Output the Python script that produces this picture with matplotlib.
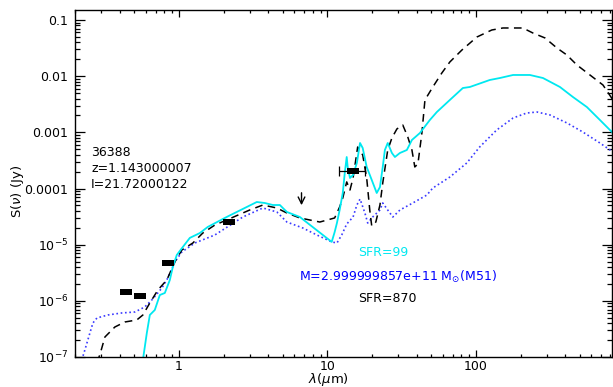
import matplotlib
matplotlib.use("Agg")
import matplotlib.pyplot as plt
import numpy as np
from matplotlib.ticker import FixedLocator, FixedFormatter, LogLocator, NullFormatter

# ---------------- data ----------------
# SFR=870 model (black dashed)
wl_black = [0.28, 0.294, 0.318, 0.371, 0.433, 0.521, 0.573, 0.638, 0.723, 0.830, 0.940,
            1.048, 1.243, 1.45, 1.75, 2.10, 3.00, 3.68, 4.57, 5.34, 6.53, 8.90, 11.2,
            12.1, 12.7, 13.5, 14.2, 14.9, 16.0, 17.3, 18.4, 19.3, 19.9, 21.2, 22.6, 23.6,
            25.5, 27.2, 29.4, 32.2, 34.8, 37.1, 38.8, 40.7, 43.3, 45.4, 51.3, 59.0, 66.8,
            80.5, 101.6, 128, 152, 207, 242, 292, 351, 410, 479, 586, 717, 837]
fl_black = [8.0e-8, 1.09e-7, 2.27e-7, 3.42e-7, 4.20e-7, 4.56e-7, 5.60e-7, 9.16e-7, 1.56e-6,
            2.35e-6, 4.92e-6, 8.04e-6, 1.07e-5, 1.61e-5, 2.24e-5, 2.75e-5, 4.14e-5, 5.08e-5,
            4.50e-5, 3.66e-5, 2.99e-5, 2.53e-5, 2.99e-5, 4.69e-5, 6.78e-5, 1.31e-4, 9.40e-5,
            1.54e-4, 5.48e-4, 3.95e-4, 1.54e-4, 4.14e-5, 2.15e-5, 2.53e-5, 5.08e-5, 1.25e-4,
            4.85e-4, 7.93e-4, 1.15e-3, 1.35e-3, 8.26e-4, 4.85e-4, 2.42e-4, 2.73e-4, 9.73e-4,
            3.77e-3, 6.42e-3, 1.14e-2, 1.79e-2, 2.92e-2, 4.98e-2, 6.64e-2, 7.21e-2, 7.21e-2,
            5.87e-2, 4.79e-2, 3.18e-2, 2.38e-2, 1.58e-2, 1.05e-2, 6.97e-3, 3.77e-3]

# SFR=99 model (cyan solid)
wl_cyan = [0.573, 0.609, 0.638, 0.689, 0.745, 0.805, 0.870, 0.911, 0.969, 1.064, 1.186,
           1.385, 1.567, 2.10, 3.35, 3.79, 4.30, 4.79, 5.34, 6.53, 10.7, 11.2, 11.6, 12.1,
           12.7, 13.1, 13.5, 13.7, 14.2, 14.9, 15.8, 16.6, 17.3, 18.4, 19.9, 21.5, 22.6,
           23.6, 24.4, 25.5, 27.2, 28.5, 30.8, 34.3, 37.1, 42.0, 49.0, 54.6, 66.8, 81.7,
           91.1, 124, 145, 178, 231, 283, 368, 450, 559, 684, 837]
fl_cyan = [8.85e-8, 2.68e-7, 5.60e-7, 6.87e-7, 1.27e-6, 1.38e-6, 2.35e-6, 4.01e-6, 6.55e-6,
           9.09e-6, 1.32e-5, 1.61e-5, 2.07e-5, 3.11e-5, 5.75e-5, 5.52e-5, 5.08e-5, 5.08e-5,
           3.82e-5, 3.11e-5, 1.12e-5, 1.68e-5, 2.43e-5, 4.14e-5, 8.32e-5, 1.89e-4, 3.64e-4,
           2.42e-4, 1.54e-4, 1.74e-4, 2.85e-4, 6.46e-4, 5.26e-4, 2.42e-4, 1.42e-4, 8.32e-5,
           1.06e-4, 2.42e-4, 4.85e-4, 6.46e-4, 4.29e-4, 3.64e-4, 4.29e-4, 4.85e-4, 7.31e-4,
           9.73e-4, 1.66e-3, 2.30e-3, 3.77e-3, 6.15e-3, 6.42e-3, 8.55e-3, 9.27e-3, 1.05e-2,
           1.05e-2, 9.27e-3, 6.42e-3, 4.26e-3, 2.82e-3, 1.66e-3, 9.73e-4]

# M51 template (blue dotted)
wl_blue = [0.222, 0.233, 0.252, 0.264, 0.281, 0.333, 0.413, 0.506, 0.590, 0.668, 0.769,
           0.843, 0.940, 1.048, 1.281, 1.75, 2.70, 3.68, 4.57, 5.34, 6.84, 8.49, 10.7,
           11.6, 12.5, 13.5, 14.9, 15.8, 16.6, 17.9, 18.7, 20.2, 22.6, 23.6, 25.5, 27.6,
           30.8, 37.6, 46.8, 51.3, 66.8, 86.9, 106, 138, 178, 220, 258, 315, 410, 526,
           684, 837]
fl_blue = [8.85e-8, 1.33e-7, 2.68e-7, 4.03e-7, 4.95e-7, 5.60e-7, 6.08e-7, 6.33e-7, 7.77e-7,
           1.08e-6, 1.69e-6, 2.55e-6, 4.92e-6, 7.41e-6, 1.07e-5, 1.49e-5, 3.11e-5, 4.50e-5,
           3.82e-5, 2.53e-5, 1.98e-5, 1.49e-5, 1.12e-5, 1.07e-5, 1.49e-5, 2.33e-5, 3.11e-5,
           5.08e-5, 6.50e-5, 3.66e-5, 2.43e-5, 3.11e-5, 4.14e-5, 5.52e-5, 4.14e-5, 3.11e-5,
           4.14e-5, 5.52e-5, 7.66e-5, 1.02e-4, 1.60e-4, 2.85e-4, 5.48e-4, 1.10e-3, 1.80e-3,
           2.21e-3, 2.30e-3, 2.04e-3, 1.47e-3, 1.01e-3, 6.46e-4, 4.47e-4]

# photometric points
obs_wl = [0.44, 0.55, 0.84, 2.17, 14.9]
obs_fl = [1.44e-6, 1.22e-6, 4.72e-6, 2.53e-5, 2.05e-4]
obs_xerr = [0, 0, 0, 0, 3.0]

# upper limit
ul_wl = 6.7
ul_top = 9.4e-5
ul_tip = 4.5e-5

ytick_vals = [1e-7, 1e-6, 1e-5, 1e-4, 1e-3, 1e-2, 1e-1]
ytick_labels = [r"10$^{-7}$", r"10$^{-6}$", r"10$^{-5}$", "0.0001", "0.001", "0.01", "0.1"]
xtick_vals = [1, 10, 100]
xtick_labels = ["1", "10", "100"]

info_lines = ["36388", "z=1.143000007", "I=21.72000122"]

# ---------------- figure ----------------
plt.rcParams['font.family'] = ['DejaVu Sans']
fig = plt.figure(figsize=(6.13, 3.87), dpi=100)
ax = fig.add_axes([75/613, 1-357/387, (612-75)/613, (357-10)/387])
ax.set_xscale('log')
ax.set_yscale('log')
ax.set_xlim(0.2, 825)
ax.set_ylim(1e-7, 0.1507)

ax.plot(wl_blue, fl_blue, color='#3a3aff', lw=1.2, linestyle=(0, (1, 1.6)))
ax.plot(wl_black, fl_black, color='black', lw=1.1, linestyle=(0, (5, 3.5)))
ax.plot(wl_cyan, fl_cyan, color='#00e8f0', lw=1.3)

err_idx = [i for i, e in enumerate(obs_xerr) if e > 0]
ax.errorbar([obs_wl[i] for i in err_idx], [obs_fl[i] for i in err_idx],
            xerr=[obs_xerr[i] for i in err_idx], fmt='none', ecolor='black',
            elinewidth=0.9, capsize=3.5, capthick=0.9)
rect = [(-1.0, -0.6), (1.0, -0.6), (1.0, 0.6), (-1.0, 0.6), (-1.0, -0.6)]
ax.plot(obs_wl, obs_fl, linestyle='none', marker=rect, markersize=8,
        color='black', markeredgewidth=0)

ax.annotate('', xy=(ul_wl, ul_tip), xytext=(ul_wl, ul_top),
            arrowprops=dict(arrowstyle='->', color='black', lw=1.0,
                            mutation_scale=12))

ax.yaxis.set_major_locator(FixedLocator(ytick_vals))
ax.yaxis.set_major_formatter(FixedFormatter(ytick_labels))
ax.yaxis.set_minor_locator(LogLocator(base=10, subs=np.arange(2, 10), numticks=20))
ax.yaxis.set_minor_formatter(NullFormatter())
ax.xaxis.set_major_locator(FixedLocator(xtick_vals))
ax.xaxis.set_major_formatter(FixedFormatter(xtick_labels))
ax.xaxis.set_minor_locator(LogLocator(base=10, subs=np.arange(2, 10), numticks=20))
ax.xaxis.set_minor_formatter(NullFormatter())

ax.tick_params(which='both', direction='in', top=True, right=True, labelsize=9, width=0.9)
ax.tick_params(axis='x', which='major', length=5, pad=2)
ax.tick_params(axis='x', which='minor', length=2.5)
ax.tick_params(axis='y', which='major', length=7, pad=5)
ax.tick_params(axis='y', which='minor', length=3.5)
for s in ax.spines.values():
    s.set_linewidth(1.0)

fig.text(328/613, 1-380/387, r"$\lambda(\mu$m)", fontsize=9.5, ha='center', va='center')
fig.text(17/613, 1-191/387, r"S($\nu$) (Jy)", rotation=90, fontsize=9.5,
         ha='center', va='center')

for i, t in enumerate(info_lines):
    fig.text(91/613, 1-(153+16*i)/387, t, fontsize=9, ha='left', va='center')

fig.text(358/613, 1-253/387, "SFR=99", fontsize=9, color='#00e8f0', ha='left', va='center')
fig.text(299/613, 1-277/387, r"M=2.999999857e+11 M$_{\odot}$(M51)", fontsize=9,
         color='#0000ff', ha='left', va='center')
fig.text(358/613, 1-298/387, "SFR=870", fontsize=9, color='black', ha='left', va='center')

fig.savefig("out.png", dpi=100)
